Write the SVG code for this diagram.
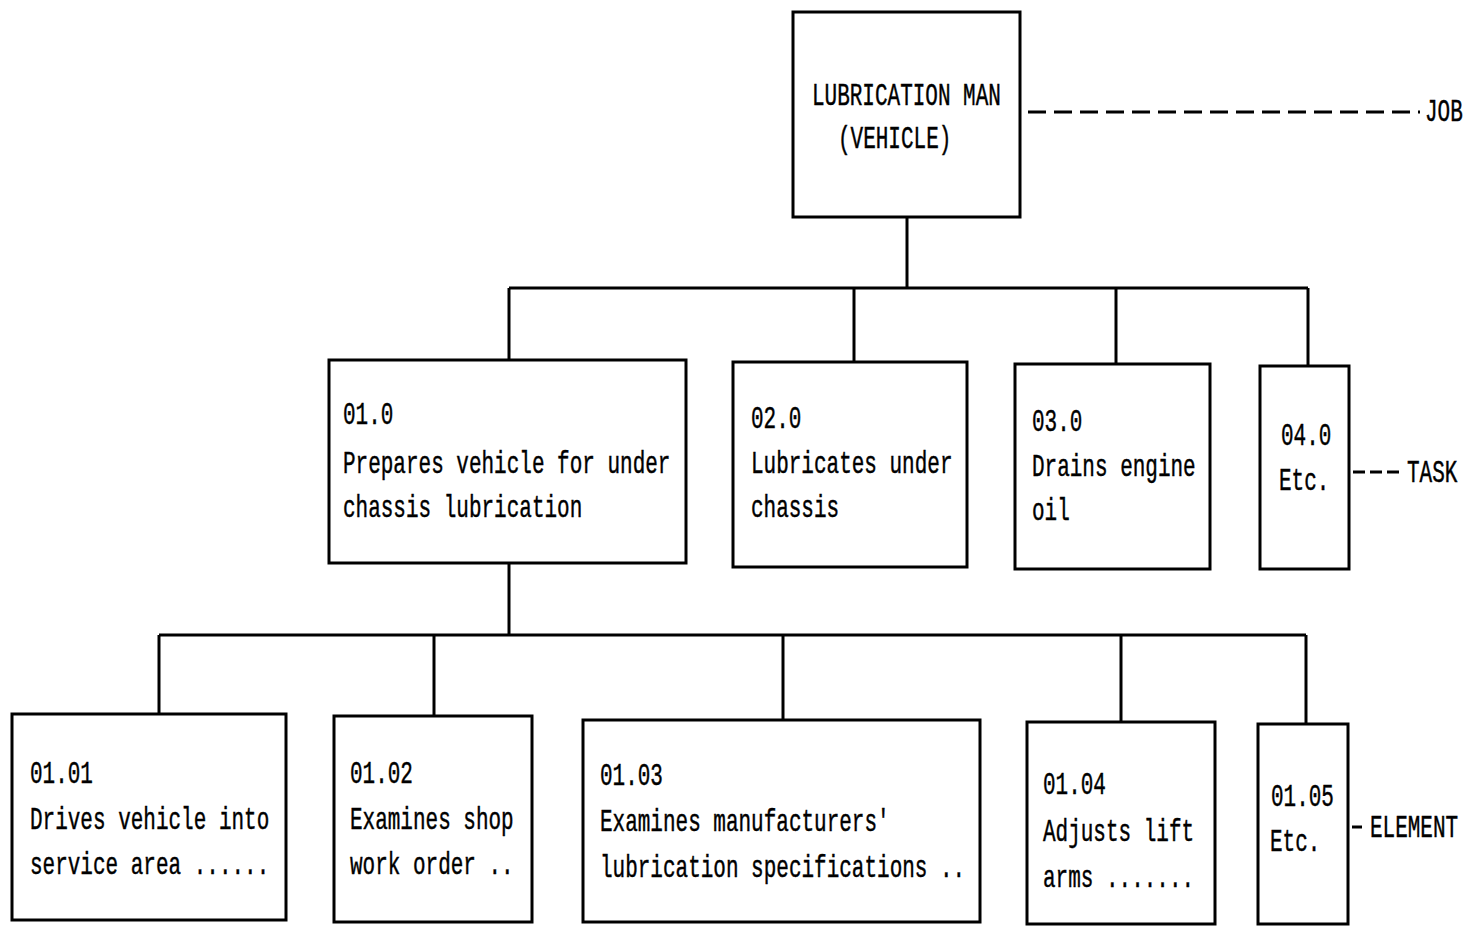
<svg xmlns="http://www.w3.org/2000/svg" width="1468" height="928" viewBox="0 0 1468 928">
<style>
.box{fill:#fff;stroke:#000;stroke-width:3}
.ln{stroke:#000;stroke-width:3;fill:none}
.dash{stroke:#000;stroke-width:3;fill:none;stroke-dasharray:18 8}
text{font-family:"Liberation Mono","DejaVu Sans Mono",monospace;font-size:21px;fill:#000;stroke:#000;stroke-width:0.3}
</style>
<rect width="1468" height="928" fill="#fff"/>
<g id="connectors">
<line class="ln" x1="907" y1="217" x2="907" y2="288"/>
<line class="ln" x1="509" y1="288" x2="1308" y2="288"/>
<line class="ln" x1="509" y1="288" x2="509" y2="360"/>
<line class="ln" x1="854" y1="288" x2="854" y2="362"/>
<line class="ln" x1="1116" y1="288" x2="1116" y2="364"/>
<line class="ln" x1="1308" y1="288" x2="1308" y2="366"/>
<line class="ln" x1="509" y1="563" x2="509" y2="635"/>
<line class="ln" x1="159" y1="635" x2="1306" y2="635"/>
<line class="ln" x1="159" y1="635" x2="159" y2="714"/>
<line class="ln" x1="434" y1="635" x2="434" y2="716"/>
<line class="ln" x1="783" y1="635" x2="783" y2="720"/>
<line class="ln" x1="1121" y1="635" x2="1121" y2="722"/>
<line class="ln" x1="1306" y1="635" x2="1306" y2="724"/>
<line class="dash" x1="1028" y1="112" x2="1420" y2="112"/>
<line class="dash" x1="1353" y1="472" x2="1403" y2="472" style="stroke-dasharray:12 5"/>
<line class="ln" x1="1352" y1="827" x2="1362" y2="827"/>
</g>
<g id="job">
<rect class="box" x="793" y="12" width="227" height="205"/>
<text transform="translate(812,105) scale(1,1.5)">LUBRICATION MAN</text>
<text transform="translate(838,148) scale(1,1.5)">(VEHICLE)</text>
</g>
<g id="label-job"><text transform="translate(1425,121) scale(1,1.5)">JOB</text></g>
<g id="task-01">
<rect class="box" x="329" y="360" width="357" height="203"/>
<text transform="translate(343,424) scale(1,1.5)">01.0</text>
<text transform="translate(343,473) scale(1,1.5)">Prepares vehicle for under</text>
<text transform="translate(343,517) scale(1,1.5)">chassis lubrication</text>
</g>
<g id="task-02">
<rect class="box" x="733" y="362" width="234" height="205"/>
<text transform="translate(751,428) scale(1,1.5)">02.0</text>
<text transform="translate(751,473) scale(1,1.5)">Lubricates under</text>
<text transform="translate(751,517) scale(1,1.5)">chassis</text>
</g>
<g id="task-03">
<rect class="box" x="1015" y="364" width="195" height="205"/>
<text transform="translate(1032,431) scale(1,1.5)">03.0</text>
<text transform="translate(1032,476) scale(1,1.5)">Drains engine</text>
<text transform="translate(1032,520) scale(1,1.5)">oil</text>
</g>
<g id="task-04">
<rect class="box" x="1260" y="366" width="89" height="203"/>
<text transform="translate(1281,445) scale(1,1.5)">04.0</text>
<text transform="translate(1279,490) scale(1,1.5)">Etc.</text>
</g>
<g id="label-task"><text transform="translate(1407,482) scale(1,1.5)">TASK</text></g>
<g id="element-0101">
<rect class="box" x="12" y="714" width="274" height="206"/>
<text transform="translate(30,783) scale(1,1.5)">01.01</text>
<text transform="translate(30,829) scale(1,1.5)">Drives vehicle into</text>
<text transform="translate(30,874) scale(1,1.5)">service area ......</text>
</g>
<g id="element-0102">
<rect class="box" x="334" y="716" width="198" height="206"/>
<text transform="translate(350,783) scale(1,1.5)">01.02</text>
<text transform="translate(350,829) scale(1,1.5)">Examines shop</text>
<text transform="translate(350,874) scale(1,1.5)">work order ..</text>
</g>
<g id="element-0103">
<rect class="box" x="583" y="720" width="397" height="202"/>
<text transform="translate(600,785) scale(1,1.5)">01.03</text>
<text transform="translate(600,831) scale(1,1.5)">Examines manufacturers'</text>
<text transform="translate(600,877) scale(1,1.5)">lubrication specifications ..</text>
</g>
<g id="element-0104">
<rect class="box" x="1027" y="722" width="188" height="202"/>
<text transform="translate(1043,794) scale(1,1.5)">01.04</text>
<text transform="translate(1043,841) scale(1,1.5)">Adjusts lift</text>
<text transform="translate(1043,887) scale(1,1.5)">arms .......</text>
</g>
<g id="element-0105">
<rect class="box" x="1258" y="724" width="90" height="200"/>
<text transform="translate(1271,806) scale(1,1.5)">01.05</text>
<text transform="translate(1270,851) scale(1,1.5)">Etc.</text>
</g>
<g id="label-element"><text transform="translate(1370,837) scale(1,1.5)">ELEMENT</text></g>
</svg>
